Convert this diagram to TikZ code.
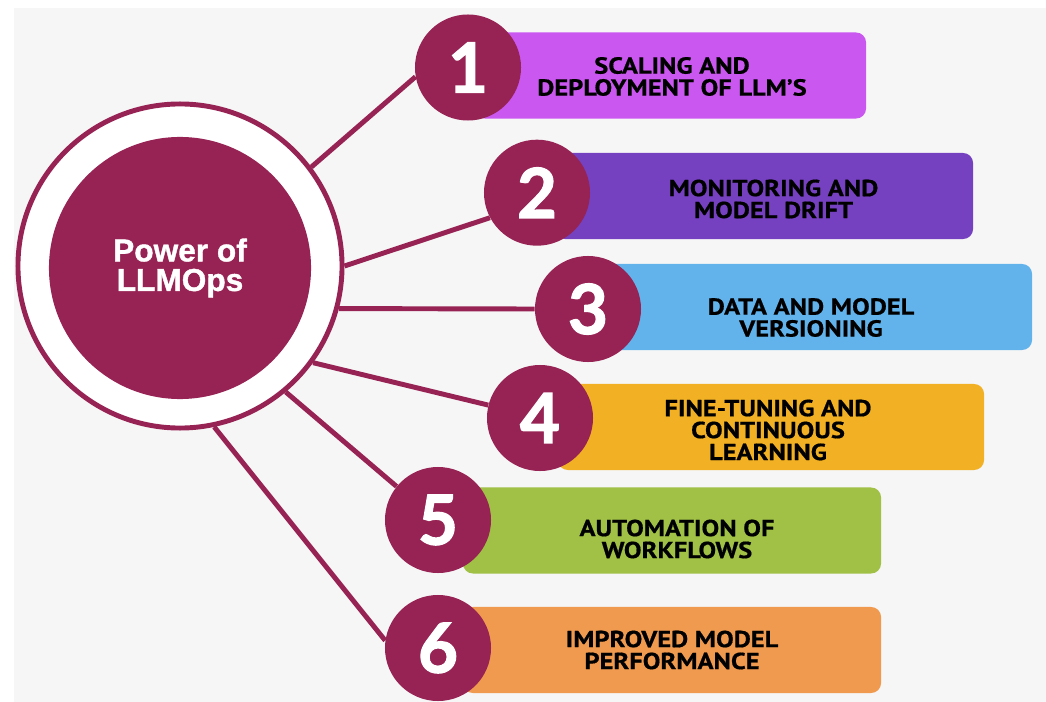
\documentclass[tikz,border=0pt]{standalone}
\usepackage{fontspec}
\usetikzlibrary{positioning}
\newfontfamily\boxfont{PT Sans}[FakeStretch=1.14,FakeBold=0.6]
\newfontfamily\numfont{Lato}[FakeBold=1.8]
\newfontfamily\hubfont{Liberation Sans}[FakeBold=1.2]

\definecolor{llmred}{RGB}{150,35,84}
\definecolor{pagebg}{RGB}{246,246,246}
\definecolor{cone}{RGB}{201,87,240}
\definecolor{ctwo}{RGB}{117,65,192}
\definecolor{cthree}{RGB}{98,179,236}
\definecolor{cfour}{RGB}{242,177,36}
\definecolor{cfive}{RGB}{160,192,70}
\definecolor{csix}{RGB}{240,154,80}

\pgfdeclarelayer{bg}
\pgfsetlayers{bg,main}

\tikzset{
  numcirc/.style={circle,fill=llmred,minimum size=2.65cm,inner sep=0pt,
    text=white,font=\numfont\bfseries\fontsize{49}{49}\selectfont},
  itembox/.style={rectangle,rounded corners=0.25cm,fill=#1,
    minimum height=2.15cm,inner sep=0pt},
  itemtext/.style={align=center,text=black,
    font=\boxfont\bfseries\fontsize{16.5}{15.6}\selectfont},
  spoke/.style={draw=llmred,line width=3.5pt}
}

\begin{document}
\begin{tikzpicture}[x=0.025cm,y=-0.025cm]
  \useasboundingbox (0,0) rectangle (1046,702);

  % boxes
  \node[itembox=cone,minimum width=9.775cm] (b1) at (670.5,75.5) {};
  \node[itembox=ctwo,minimum width=10.45cm] (b2) at (764,196) {};
  \node[itembox=cthree,minimum width=10.8cm] (b3) at (816,307) {};
  \node[itembox=cfour,minimum width=10.65cm] (b4) at (771,427) {};
  \node[itembox=cfive,minimum width=10.45cm] (b5) at (672,530.5) {};
  \node[itembox=csix,minimum width=10.45cm] (b6) at (672,650) {};

  % hub
  \node[circle,draw=llmred,line width=3.5pt,fill=white,minimum size=8.1cm] (hub) at (180,266) {};
  \node[circle,fill=llmred,minimum size=6.55cm,align=center,text=white,
    font=\hubfont\bfseries\fontsize{22.5}{21}\selectfont] (hubcore) at (180,268) {Power of\\LLMOps};

  % numbers
  \node[numcirc] (n1) at (468,67.5) {1};
  \node[numcirc] (n2) at (537,192.7) {2};
  \node[numcirc] (n3) at (588,309) {3};
  \node[numcirc] (n4) at (540,418) {4};
  \node[numcirc] (n5) at (438,520) {5};
  \node[numcirc] (n6) at (438,648) {6};

  % labels
  \node[itemtext] (t1) at (672,76.5) {SCALING AND\\DEPLOYMENT OF LLM’S};
  \node[itemtext] (t2) at (773.5,199) {MONITORING AND\\MODEL DRIFT};
  \node[itemtext] (t3) at (811,317.5) {DATA AND MODEL\\VERSIONING};
  \node[itemtext] (t4) at (768,430) {FINE-TUNING AND\\CONTINUOUS\\LEARNING};
  \node[itemtext] (t5) at (677,539) {AUTOMATION OF\\WORKFLOWS};
  \node[itemtext] (t6) at (672,650) {IMPROVED MODEL\\PERFORMANCE};

  \begin{pgfonlayer}{bg}
    \fill[pagebg] (14,8) rectangle (1046,702);
    \draw[spoke] (hub.37) -- (n1.190);
    \draw[spoke] (hub.0) -- (n2.208);
    \draw[spoke] (hub.-15) -- (n3.180);
    \draw[spoke] (hub.-36) -- (n4.166);
    \draw[spoke] (hub.-50) -- (n5.141);
    \draw[spoke] (hub.-78) -- (n6.172);
  \end{pgfonlayer}
\end{tikzpicture}
\end{document}
